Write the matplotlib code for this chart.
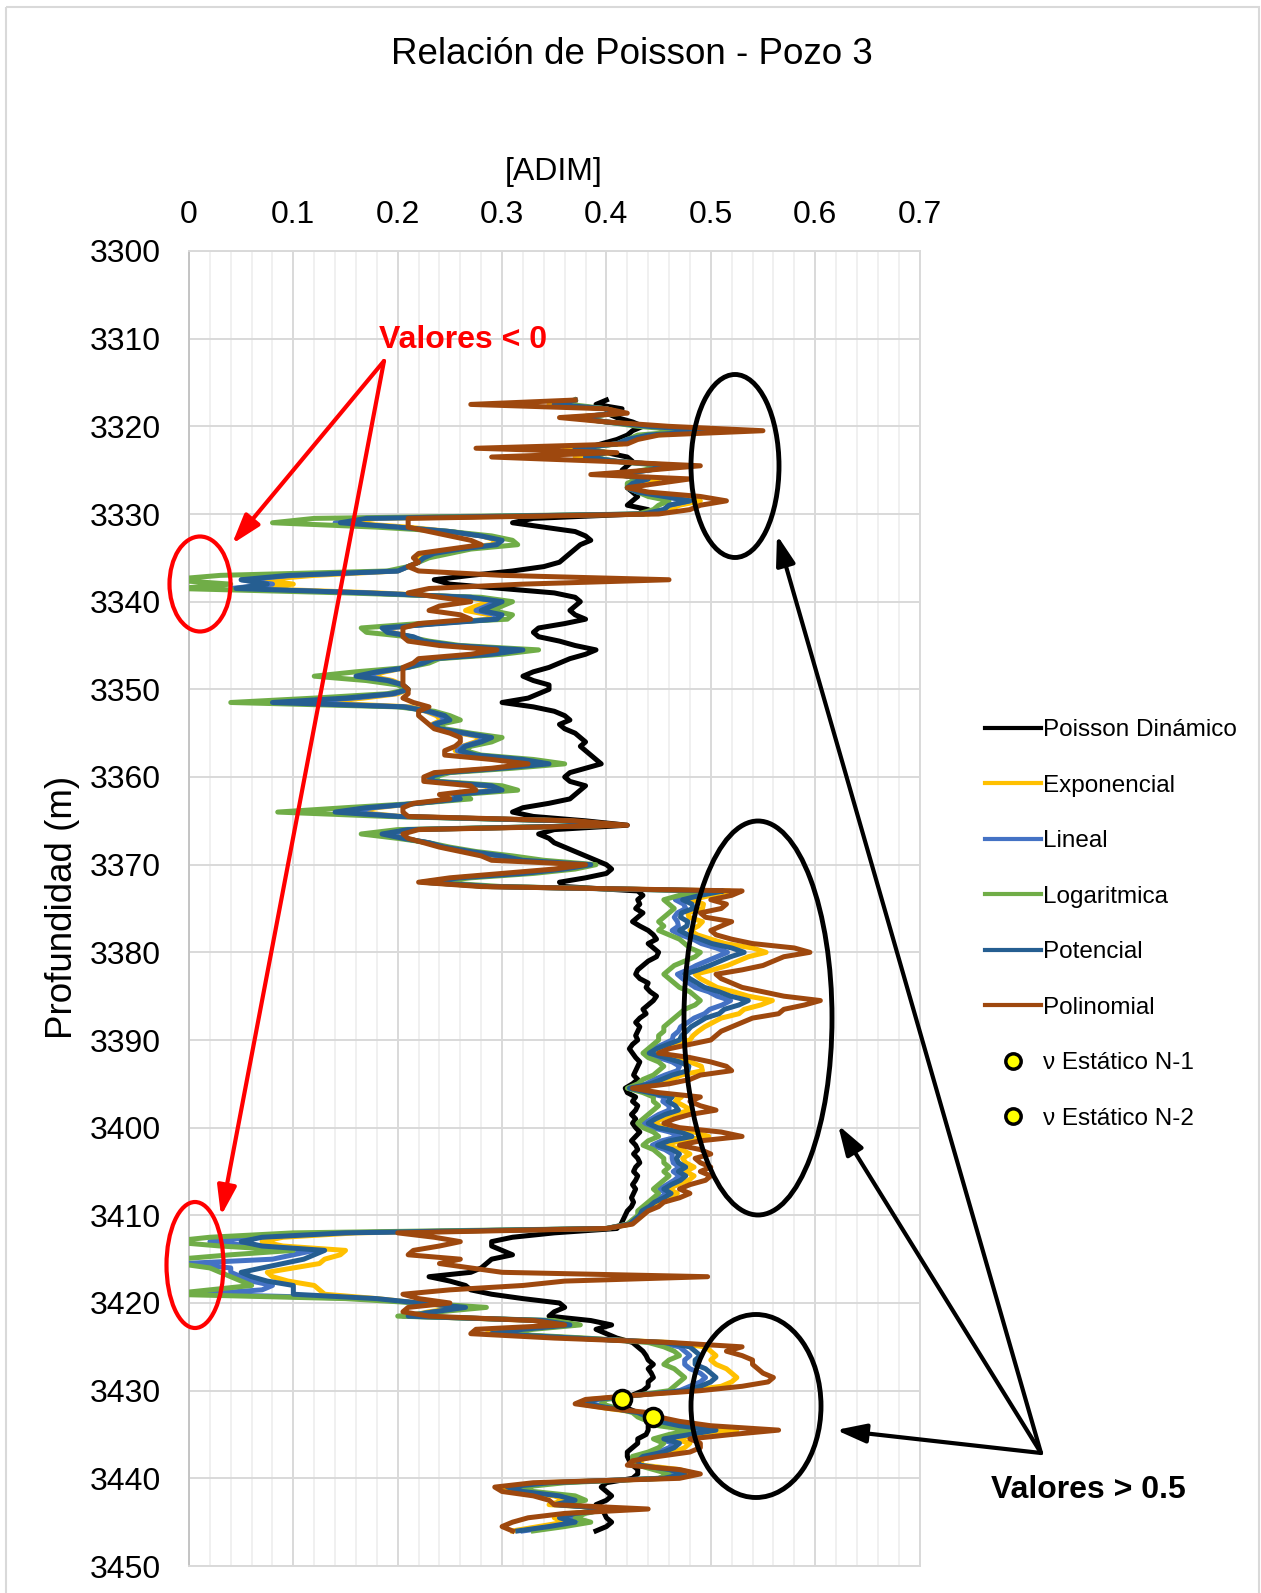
import matplotlib
matplotlib.use("Agg")
import matplotlib.pyplot as plt
import numpy as np
from matplotlib.patches import Ellipse, Rectangle

plt.rcParams['font.family'] = ['Liberation Sans', 'DejaVu Sans']

# depth grid (m), one reading every 0.5 m from 3317 to 3446
depth = np.arange(3317.0, 3446.01, 0.5)

# Poisson dinamico (black)
dinamico = [
    .40, .39, .415, .40, .41, .425, .435, .425, .42, .41, .395, .38, .40, .42, .425, .42, .415, .425, .43, .425,
    .42, .425, .43, .425, .42, .44, .43, .33,
    .31, .34, .37, .38, .385, .375, .37, .365, .36, .355, .34, .31, .27, .235, .25, .30, .35, .37,
    .375, .37, .365, .37, .38, .36, .335, .33, .335, .355,
    .37, .39, .38, .365, .355, .345, .33, .32, .33, .345,
    .345, .335, .325, .30, .33, .35, .36, .365, .355, .36,
    .37, .375, .38, .375, .38, .385, .39, .395, .38, .365,
    .36, .365, .38, .375, .37, .365, .345, .32, .31, .33,
    .38, .42, .35, .335, .345, .35, .36, .37, .38, .39,
    .40, .405, .40, .38, .355, .36,
    .43, .435, .43, .432, .428, .435, .43, .425, .432, .44,
    .445, .448, .44, .445, .45, .448, .44, .435, .43, .428,
    .432, .44, .438, .442, .448, .445, .44, .435, .438, .432,
    .428, .432, .43, .428, .43, .425, .422, .425, .428, .432,
    .43, .428, .426, .43, .425, .418, .42, .428, .425, .43,
    .428, .424, .428, .425, .428, .432, .428, .424, .428, .43,
    .426, .43, .432, .428, .426, .43, .428, .425, .428, .426,
    .424, .426, .424, .42, .418, .416, .414,
    .41, .35, .31, .29, .29, .30, .31, .29, .285, .28,
    .27, .23, .25, .265, .27, .29, .32, .355, .36, .35,
    .345, .385, .405, .39, .40, .41, .425,
    .43, .435, .438, .44, .445, .44, .443, .445, .44, .44, .435, .425, .415, .415, .42, .43, .44, .445, .44, .44,
    .438, .43, .43, .425, .42, .42, .422, .425, .43, .43, .425, .40, .395, .40, .405, .40, .39, .395, .398, .40,
    .405, .40, .39,
]

exponencial = [
    .37, .345, .40, .415, .365, .40, .445, .51, .445, .425, .415, .36, .405, .37, .41, .47, .44, .405, .45, .43,
    .42, .435, .46, .49, .47, .46, .44, .18,
    .15, .21, .25, .28, .295, .29, .255, .23, .22, .22, .21, .20, .12, .07, .10, .06, .18, .265,
    .291, .275, .265, .288, .288, .234, .191, .195, .212, .22,
    .25, .312, .284, .23, .222, .208, .188, .174, .195, .205,
    .21, .20, .167, .12, .212, .227, .237, .242, .233, .238,
    .26, .281, .274, .262, .255, .266, .311, .339, .297, .242,
    .228, .232, .284, .292, .25, .257, .218, .18, .16, .203,
    .363, .413, .213, .191, .206, .228, .243, .267, .294, .311,
    .383, .357, .314, .257, .223, .287,
    .518, .50, .482, .493, .492, .478, .479, .492, .488, .48,
    .487, .50, .514, .54, .553, .536, .526, .516, .502, .485,
    .49, .498, .506, .522, .536, .559, .548, .532, .527, .51,
    .502, .494, .488, .483, .48, .466, .452, .444, .464, .48,
    .491, .492, .472, .462, .448, .423, .444, .472, .466, .474,
    .481, .464, .453, .445, .456, .484, .498, .47, .456, .472,
    .48, .473, .476, .484, .476, .484, .479, .468, .46, .468,
    .46, .449, .444, .436, .433, .428, .423,
    .40, .16, .09, .07, .09, .15, .145, .13, .125, .10,
    .075, .08, .095, .12, .125, .13, .18, .22, .26, .23,
    .21, .335, .36, .315, .285, .37, .46,
    .495, .50, .505, .50, .505, .515, .52, .525, .52, .51, .48, .43, .385, .375, .40, .43, .445, .455, .48, .525,
    .49, .465, .48, .475, .465, .44, .432, .435, .47, .485, .46, .34, .30, .315, .35, .36, .345, .415, .365, .35,
    .36, .335, .31,
]

lineal = [
    .37, .35, .40, .41, .37, .40, .44, .50, .44, .42, .41, .37, .40, .38, .41, .465, .44, .41, .44, .425,
    .42, .43, .455, .48, .46, .455, .435, .16,
    .14, .20, .25, .28, .30, .295, .26, .235, .225, .22, .21, .20, .10, .05, .08, .04, .17, .27,
    .298, .285, .275, .295, .292, .235, .19, .193, .213, .222,
    .252, .315, .287, .232, .223, .209, .184, .166, .192, .205,
    .21, .197, .157, .095, .208, .228, .241, .246, .234, .239,
    .262, .286, .277, .263, .257, .27, .315, .34, .298, .243,
    .229, .233, .286, .296, .253, .258, .219, .176, .15, .202,
    .362, .412, .212, .19, .206, .229, .244, .268, .296, .315,
    .384, .358, .317, .258, .224, .288,
    .508, .483, .466, .474, .476, .468, .465, .468, .469, .463,
    .471, .483, .491, .505, .516, .506, .496, .486, .478, .468,
    .473, .479, .485, .498, .506, .519, .511, .499, .494, .484,
    .478, .471, .469, .464, .463, .454, .445, .439, .45, .463,
    .47, .468, .456, .446, .438, .421, .439, .456, .454, .46,
    .46, .45, .443, .436, .444, .461, .47, .453, .444, .456,
    .463, .463, .464, .47, .464, .47, .465, .458, .451, .458,
    .451, .444, .439, .433, .431, .426, .421,
    .40, .14, .06, .02, .06, .12, .10, .08, -.005, .04,
    .04, .05, .06, .08, .07, .01, .17, .22, .27, .235,
    .205, .345, .37, .32, .29, .37, .45,
    .47, .475, .48, .475, .475, .48, .49, .495, .49, .48, .47, .43, .39, .385, .41, .43, .435, .445, .46, .495,
    .47, .45, .465, .46, .45, .43, .428, .43, .455, .47, .45, .35, .31, .325, .36, .375, .355, .405, .375, .36,
    .375, .35, .32,
]

logaritmica = [
    .37, .365, .40, .41, .375, .40, .43, .48, .43, .42, .41, .375, .40, .385, .41, .455, .435, .415, .43, .42,
    .42, .43, .44, .46, .45, .445, .43, .12,
    .08, .18, .25, .29, .31, .315, .27, .25, .23, .22, .21, .19, .03, -.02, .04, -.01, .15, .28,
    .31, .30, .29, .31, .305, .22, .165, .17, .21, .23,
    .26, .335, .30, .24, .23, .21, .16, .12, .17, .20,
    .21, .19, .12, .04, .20, .235, .25, .26, .24, .245,
    .27, .30, .29, .27, .265, .28, .33, .36, .31, .25,
    .235, .24, .30, .315, .26, .27, .22, .15, .085, .19,
    .36, .41, .20, .165, .20, .23, .25, .275, .31, .34,
    .39, .37, .33, .27, .235, .30,
    .50, .47, .455, .46, .465, .46, .455, .45, .455, .45,
    .46, .47, .475, .48, .49, .485, .475, .465, .46, .455,
    .46, .465, .47, .48, .485, .49, .485, .475, .47, .465,
    .46, .455, .455, .45, .45, .445, .44, .435, .44, .45,
    .455, .45, .445, .435, .43, .42, .435, .445, .445, .45,
    .445, .44, .435, .43, .435, .445, .45, .44, .435, .445,
    .45, .455, .455, .46, .455, .46, .455, .45, .445, .45,
    .445, .44, .435, .43, .43, .425, .42,
    .40, .10, .02, -.02, .03, .10, .04, -.01, -.01, .02,
    .03, .04, .05, .06, .02, -.02, .15, .22, .285, .24,
    .20, .35, .375, .33, .30, .38, .44,
    .455, .465, .47, .46, .455, .465, .47, .475, .47, .465, .46, .43, .40, .395, .41, .425, .43, .44, .45, .48,
    .46, .445, .455, .45, .44, .425, .425, .43, .445, .46, .45, .36, .32, .33, .37, .38, .36, .40, .38, .37,
    .385, .36, .33,
]

potencial = [
    .37, .35, .40, .41, .37, .40, .44, .50, .44, .42, .41, .37, .40, .38, .41, .465, .44, .41, .44, .425,
    .42, .43, .455, .48, .46, .455, .435, .17,
    .145, .20, .25, .28, .30, .295, .26, .235, .225, .22, .21, .20, .095, .05, .075, .045, .17, .27,
    .30, .29, .28, .30, .295, .24, .185, .19, .215, .225,
    .255, .32, .29, .235, .225, .21, .18, .16, .19, .205,
    .21, .195, .15, .08, .205, .23, .245, .25, .235, .24,
    .265, .29, .28, .265, .26, .275, .32, .345, .30, .245,
    .23, .235, .29, .30, .255, .26, .22, .17, .14, .20,
    .36, .41, .21, .185, .205, .23, .245, .27, .30, .32,
    .385, .36, .32, .26, .225, .29,
    .512, .49, .473, .482, .483, .472, .471, .478, .477, .47,
    .478, .49, .501, .52, .532, .519, .509, .499, .488, .475,
    .48, .487, .494, .508, .519, .536, .527, .513, .508, .495,
    .488, .481, .477, .472, .47, .459, .448, .441, .456, .47,
    .479, .478, .463, .453, .442, .422, .441, .463, .459, .466,
    .469, .456, .447, .44, .449, .471, .482, .46, .449, .463,
    .47, .467, .469, .476, .469, .476, .471, .462, .455, .462,
    .455, .446, .441, .434, .432, .427, .422,
    .40, .15, .07, .05, .07, .13, .12, .11, .09, .07,
    .05, .06, .075, .10, .10, .10, .18, .22, .265, .235,
    .21, .34, .365, .32, .29, .37, .455,
    .48, .485, .49, .485, .485, .495, .50, .505, .50, .49, .475, .43, .39, .38, .405, .43, .44, .45, .47, .505,
    .48, .455, .47, .465, .455, .435, .43, .432, .46, .475, .455, .345, .305, .32, .355, .37, .35, .41, .37, .355,
    .37, .345, .315,
]

polinomial = [
    .37, .27, .40, .42, .355, .40, .46, .55, .45, .43, .42, .275, .41, .29, .40, .49, .44, .385, .48, .45,
    .42, .44, .49, .515, .49, .48, .45, .21,
    .21, .21, .23, .25, .27, .28, .25, .22, .215, .22, .21, .22, .30, .46, .32, .23, .21, .24,
    .27, .24, .23, .26, .27, .22, .205, .205, .205, .21,
    .24, .295, .27, .22, .215, .205, .205, .205, .205, .205,
    .21, .21, .205, .215, .23, .22, .22, .225, .23, .235,
    .25, .26, .26, .255, .245, .245, .29, .325, .29, .235,
    .225, .225, .27, .275, .24, .25, .215, .205, .205, .21,
    .37, .42, .22, .205, .21, .225, .24, .26, .28, .29,
    .38, .35, .30, .25, .22, .28,
    .53, .52, .50, .515, .51, .49, .495, .52, .51, .50,
    .505, .52, .54, .58, .595, .57, .56, .55, .53, .505,
    .51, .52, .53, .55, .57, .605, .59, .57, .565, .54,
    .53, .52, .51, .505, .50, .48, .46, .45, .48, .50,
    .515, .52, .49, .48, .46, .425, .45, .49, .48, .49,
    .505, .48, .465, .455, .47, .51, .53, .49, .47, .49,
    .50, .485, .49, .50, .49, .50, .495, .48, .47, .48,
    .47, .455, .45, .44, .435, .43, .425,
    .40, .20, .235, .26, .24, .215, .21, .26, .24, .27,
    .30, .497, .36, .32, .25, .205, .22, .25, .21, .205,
    .23, .33, .36, .275, .27, .35, .46,
    .53, .515, .53, .54, .54, .545, .55, .56, .555, .53, .49, .43, .38, .37, .40, .44, .45, .47, .50, .565,
    .52, .48, .49, .49, .48, .45, .425, .42, .47, .49, .47, .33, .293, .30, .33, .345, .35, .44, .36, .325,
    .31, .30, .31,
]

# static Poisson ratio from core samples
est_n1_x, est_n1_depth = [0.415], [3431.0]
est_n2_x, est_n2_depth = [0.445], [3433.0]

W, H = 1261, 1593
fig = plt.figure(figsize=(W / 100, H / 100), dpi=100)
ax = fig.add_axes([189 / W, 1 - 1566 / H, (919.5 - 189) / W, (1566 - 251) / H])

lw = 3.6
kw = dict(lw=lw, zorder=3, solid_joinstyle='round')
ax.plot(dinamico, depth, color='black', label='Poisson Dinámico', **kw)
ax.plot(exponencial, depth, color='#FFC000', label='Exponencial', **kw)
ax.plot(lineal, depth, color='#4472C4', label='Lineal', **kw)
ax.plot(logaritmica, depth, color='#70AD47', label='Logaritmica', **kw)
ax.plot(potencial, depth, color='#255E91', label='Potencial', **kw)
ax.plot(polinomial, depth, color='#9E480E', label='Polinomial', **kw)
ax.plot(est_n1_x, est_n1_depth, ls='none', marker='o', ms=13, mfc='#FFFF00', mec='black', mew=2.5,
        label='ν Estático N-1', zorder=4)
ax.plot(est_n2_x, est_n2_depth, ls='none', marker='o', ms=13, mfc='#FFFF00', mec='black', mew=2.5,
        label='ν Estático N-2', zorder=4)

ax.set_xlim(0, 0.7)
ax.set_ylim(3450, 3300)
ax.xaxis.tick_top()
ax.set_xticks(np.arange(0, 0.71, 0.1))
ax.set_xticklabels(['0', '0.1', '0.2', '0.3', '0.4', '0.5', '0.6', '0.7'])
ax.set_xticks(np.arange(0, 0.701, 0.02), minor=True)
ax.set_yticks(np.arange(3300, 3451, 10))
ax.grid(which='major', color='#D9D9D9', lw=1.4)
ax.grid(which='minor', axis='x', color='#F0F0F0', lw=1.4)
ax.set_axisbelow(True)
ax.tick_params(axis='both', which='both', length=0, labelsize=23)
ax.tick_params(axis='x', pad=15)
ax.tick_params(axis='y', pad=20)
for s in ax.spines.values():
    s.set_color('#D9D9D9')
    s.set_linewidth(1.4)
ax.spines['left'].set_color('#C4C4C4')

leg = ax.legend(loc='upper left', bbox_to_anchor=(985 / W, 1 - 719 / H), bbox_transform=fig.transFigure,
                frameon=False, fontsize=17.5, handlelength=2.3, handletextpad=0.1, labelspacing=1.38,
                borderpad=0, borderaxespad=0, markerscale=0.85)
for h in leg.get_lines()[:6]:
    h.set_linewidth(3.0)

# overlay in pixel coordinates for titles and annotations
ov = fig.add_axes([0, 0, 1, 1], zorder=5)
ov.set_xlim(0, W)
ov.set_ylim(H, 0)
ov.axis('off')

ov.add_patch(Rectangle((6, 7), 1253, 1620, fill=False, ec='#D9D9D9', lw=1.5))
ov.text(632, 54, 'Relación de Poisson - Pozo 3', fontsize=26.5, ha='center', va='center')
ov.text(554, 172, '[ADIM]', fontsize=23, ha='center', va='center')
ov.text(63, 907, 'Profundidad (m)', fontsize=26.5, rotation=90, ha='center', va='center')

# red annotation: negative values
ov.text(463, 340, 'Valores < 0', fontsize=23, fontweight='bold', color='red', ha='center', va='center')
ov.add_patch(Ellipse((200, 584), 61, 95, fill=False, ec='red', lw=3))
ov.add_patch(Ellipse((195, 1265), 57, 126, fill=False, ec='red', lw=3))
red_arrow = dict(arrowstyle='-|>,head_length=1.0,head_width=0.32', color='red', lw=3, shrinkA=0, shrinkB=0,
                 mutation_scale=18)
ov.annotate('', xy=(232, 544), xytext=(384, 361), arrowprops=red_arrow)
ov.annotate('', xy=(221, 1216), xytext=(384, 361), arrowprops=red_arrow)

# black annotation: values above 0.5
ov.text(1088, 1490, 'Valores > 0.5', fontsize=23, fontweight='bold', color='black', ha='center', va='center')
ov.add_patch(Ellipse((735, 466), 88, 183, fill=False, ec='black', lw=3.5))
ov.add_patch(Ellipse((758, 1018), 148, 394, fill=False, ec='black', lw=3.5))
ov.add_patch(Ellipse((756, 1406), 130, 183, fill=False, ec='black', lw=3.5))
blk_arrow = dict(arrowstyle='-|>,head_length=1.0,head_width=0.32', color='black', lw=3, shrinkA=0, shrinkB=0,
                 mutation_scale=18)
ov.annotate('', xy=(777, 535), xytext=(1041, 1453), arrowprops=blk_arrow)
ov.annotate('', xy=(838, 1125), xytext=(1041, 1453), arrowprops=blk_arrow)
ov.annotate('', xy=(836, 1430), xytext=(1041, 1453), arrowprops=blk_arrow)

fig.savefig('out.png', dpi=100)
